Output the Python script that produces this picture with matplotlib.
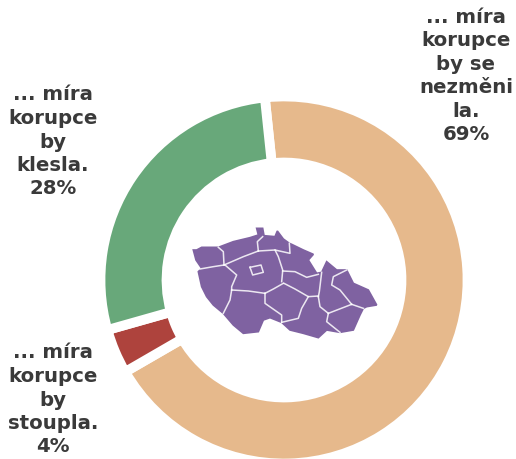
import matplotlib
matplotlib.use("Agg")
import matplotlib.pyplot as plt
from matplotlib.patches import Polygon

labels = ["... míra\nkorupce\nby se\nnezměni\nla.\n69%", "... míra\nkorupce\nby\nstoupla.\n4%", "... míra\nkorupce\nby\nklesla.\n28%"]
values = [69, 4, 28]
colors = ["#E6B98C", "#AE433D", "#68A87A"]

# map at 3x zoom
outline = [(40,105),(50,105),(65,97),(100,97),(115,97),(160,80),(210,68),(235,60),(230,40),(248,40),(252,62),
           (285,65),(292,48),(310,72),(328,85),(335,88),(370,105),(400,118),(385,135),(410,175),(425,172),(440,140),
           (470,165),(500,165),(520,205),(565,225),(590,270),(560,275),(550,280),(540,300),(520,345),(480,352),
           (440,345),(415,368),(370,355),(330,345),(305,322),(270,308),(250,315),(235,350),(190,355),(160,330),
           (130,295),(100,270),(80,245),(65,215),(55,170),(65,160),(48,135)]
borders = [
    [(60,162),(100,155),(132,150)],
    [(115,97),(130,110),(132,150)],
    [(132,150),(190,125),(235,108)],
    [(248,65),(232,80),(235,108)],
    [(235,108),(285,105),(330,115),(328,85)],
    [(285,105),(295,125),(308,165)],
    [(308,168),(345,170),(380,187),(415,178)],
    [(425,172),(418,230),(415,245)],
    [(308,168),(305,200)],
    [(312,205),(345,222),(385,245),(415,243)],
    [(310,205),(280,222),(255,235)],
    [(155,225),(205,228),(255,235)],
    [(135,150),(170,180),(155,215),(155,225)],
    [(155,225),(150,255),(130,295)],
    [(255,235),(255,265),(305,300),(305,322)],
    [(385,245),(365,280),(355,310),(305,322)],
    [(415,245),(420,275),(445,295)],
    [(445,295),(440,320),(480,352)],
    [(445,295),(515,268)],
    [(515,268),(550,280)],
    [(515,268),(480,225),(455,210),(460,185),(500,165)],
    [(210,157),(243,150),(250,172),(218,180),(210,157)],
]

W, H = 516, 459


def to_px(pt):
    return (180 + pt[0] / 3, H - (215 + pt[1] / 3))


fig = plt.figure(figsize=(W / 100, H / 100), dpi=100)
ax = fig.add_axes([0, 0, 1, 1])

ax.pie(values, colors=colors, center=(284, H - 280), radius=183.5, startangle=96, counterclock=False,
       wedgeprops={"width": 66, "edgecolor": "white", "linewidth": 7})
ax.set_xlim(0, W)
ax.set_ylim(0, H)
ax.axis("off")

ax.add_patch(Polygon([to_px(p) for p in outline], closed=True, facecolor="#7F62A1", edgecolor="#7F62A1", linewidth=1.2))
for line in borders:
    xs, ys = zip(*[to_px(p) for p in line])
    ax.plot(xs, ys, color="white", linewidth=1.1, alpha=0.85)

text_style = dict(ha="center", va="center", fontsize=14.2, fontweight="bold", color="#3A3A3A", linespacing=1.3, family="DejaVu Sans")
ax.text(466, H - 76, labels[0], **text_style)
ax.text(53, H - 400, labels[1], **text_style)
ax.text(53, H - 142, labels[2], **text_style)

fig.savefig("out.png", dpi=100)
